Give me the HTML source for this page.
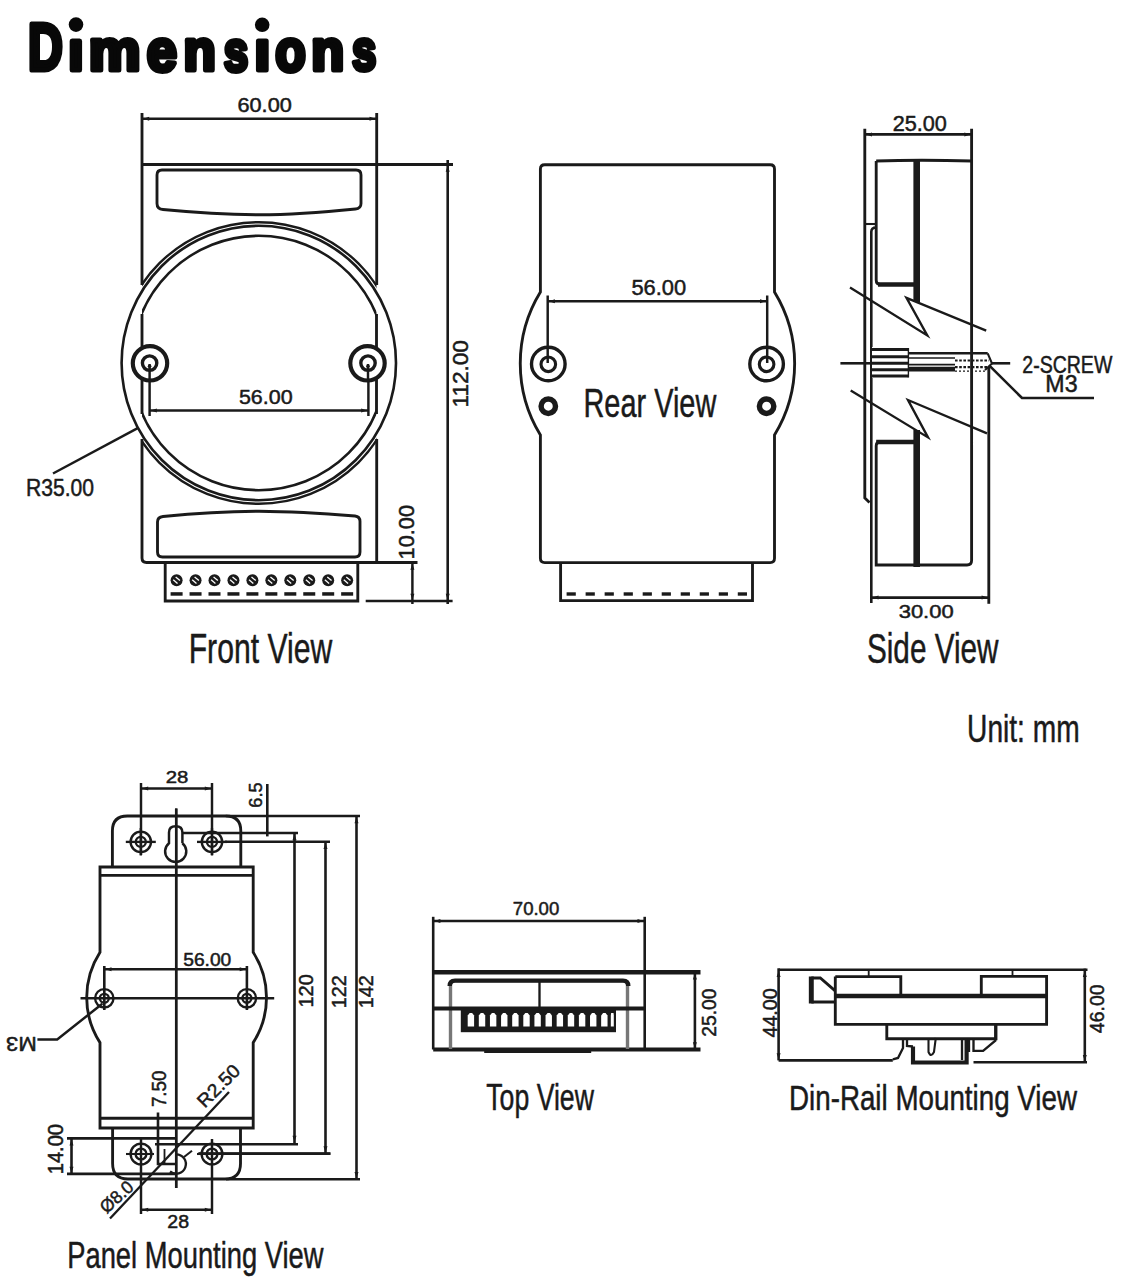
<!DOCTYPE html>
<html><head><meta charset="utf-8"><style>
html,body{margin:0;padding:0;background:#fff;}
body{width:1129px;height:1280px;overflow:hidden;}
svg{display:block;font-family:"Liberation Sans", sans-serif;}
</style></head><body>
<svg width="1129" height="1280" viewBox="0 0 1129 1280" stroke="#1a1a1a" stroke-linecap="butt">
<rect x="0" y="0" width="1129" height="1280" fill="#fff" stroke="none"/>
<text transform="translate(46.10,47.05) rotate(0)" x="-18.03" y="22.85" font-size="66.43" font-weight="bold" textLength="34.86" lengthAdjust="spacingAndGlyphs" fill="#080808" stroke="#080808" stroke-width="5.0" stroke-linejoin="round">D</text>
<text transform="translate(75.95,55.35) rotate(0)" x="-7.62" y="14.55" font-size="55.08" font-weight="bold" textLength="15.19" lengthAdjust="spacingAndGlyphs" fill="#080808" stroke="#080808" stroke-width="5.0" stroke-linejoin="round">ı</text>
<text transform="translate(114.85,54.65) rotate(0)" x="-25.99" y="15.45" font-size="57.37" font-weight="bold" textLength="51.74" lengthAdjust="spacingAndGlyphs" fill="#080808" stroke="#080808" stroke-width="5.0" stroke-linejoin="round">m</text>
<text transform="translate(161.90,55.20) rotate(0)" x="-15.22" y="15.43" font-size="58.41" font-weight="bold" textLength="30.17" lengthAdjust="spacingAndGlyphs" fill="#080808" stroke="#080808" stroke-width="5.0" stroke-linejoin="round">e</text>
<text transform="translate(199.75,54.65) rotate(0)" x="-16.23" y="15.45" font-size="57.37" font-weight="bold" textLength="32.26" lengthAdjust="spacingAndGlyphs" fill="#080808" stroke="#080808" stroke-width="5.0" stroke-linejoin="round">n</text>
<text transform="translate(235.90,55.35) rotate(0)" x="-12.15" y="15.29" font-size="57.81" font-weight="bold" textLength="24.56" lengthAdjust="spacingAndGlyphs" fill="#080808" stroke="#080808" stroke-width="5.0" stroke-linejoin="round">s</text>
<text transform="translate(262.25,55.35) rotate(0)" x="-7.82" y="14.55" font-size="55.08" font-weight="bold" textLength="15.59" lengthAdjust="spacingAndGlyphs" fill="#080808" stroke="#080808" stroke-width="5.0" stroke-linejoin="round">ı</text>
<text transform="translate(290.40,55.30) rotate(0)" x="-15.25" y="15.53" font-size="58.78" font-weight="bold" textLength="30.50" lengthAdjust="spacingAndGlyphs" fill="#080808" stroke="#080808" stroke-width="5.0" stroke-linejoin="round">o</text>
<text transform="translate(327.80,54.55) rotate(0)" x="-16.55" y="15.35" font-size="57.00" font-weight="bold" textLength="32.89" lengthAdjust="spacingAndGlyphs" fill="#080808" stroke="#080808" stroke-width="5.0" stroke-linejoin="round">n</text>
<text transform="translate(364.00,55.20) rotate(0)" x="-12.04" y="15.14" font-size="57.26" font-weight="bold" textLength="24.33" lengthAdjust="spacingAndGlyphs" fill="#080808" stroke="#080808" stroke-width="5.0" stroke-linejoin="round">s</text>
<circle cx="76.0" cy="24.6" r="7.3" stroke-width="0.00" fill="#080808" />
<circle cx="262.2" cy="24.8" r="7.3" stroke-width="0.00" fill="#080808" />
<defs><clipPath id="cpIn"><rect x="142" y="0" width="234.5" height="700"/></clipPath><clipPath id="cpDbl"><rect x="142" y="0" width="234.5" height="290"/><rect x="142" y="436" width="234.5" height="200"/></clipPath></defs>
<path d="M142,113 V285" stroke-width="2.86" fill="none" />
<path d="M376.7,113 V285" stroke-width="2.86" fill="none" />
<path d="M142,164.5 H453" stroke-width="2.86" fill="none" />
<path d="M142,118.7 H377" stroke-width="2.60" fill="none" />
<path d="M142,439 V558 Q142,562.5 146.5,562.5 H417.5" stroke-width="2.86" fill="none" />
<path d="M376.7,439 V562.5" stroke-width="2.86" fill="none" />
<path d="M157,175 Q157,170 162,170 H356 Q361,170 361,175 V203.5 Q361,208.5 355.5,209 Q300,214.8 259,214.8 Q215,214.5 163,209.5 Q157,209 157,203.5 Z" stroke-width="2.86" fill="none" />
<path d="M157.5,522 Q157.5,517 163,516.5 Q215,511.2 259,511.2 Q300,511.5 355,516 Q360,516.5 360,521.5 V552 Q360,557 355,557 H162.5 Q157.5,557 157.5,552 Z" stroke-width="2.86" fill="none" />
<circle cx="258.8" cy="363.0" r="137.2" stroke-width="2.60" fill="none" />
<circle cx="258.8" cy="363.0" r="140.8" stroke-width="2.4" fill="none" clip-path="url(#cpDbl)"/>
<circle cx="258.8" cy="363.0" r="127.2" stroke-width="2.6" fill="none" clip-path="url(#cpIn)"/>
<path d="M142,314 V414" stroke-width="2.86" fill="none" />
<path d="M376.5,314 V414" stroke-width="2.86" fill="none" />
<path d="M149.6,363 V416" stroke-width="2.47" fill="none" />
<path d="M368.4,363 V416" stroke-width="2.47" fill="none" />
<path d="M149.6,410.5 H368.4" stroke-width="2.60" fill="none" />
<circle cx="150.0" cy="363.3" r="17.2" stroke-width="4.16" fill="#fff" />
<circle cx="149.6" cy="363.1" r="7.2" stroke-width="3.38" fill="#fff" />
<path d="M149.6,364 V381" stroke-width="2.47" fill="none" />
<circle cx="149.6" cy="366.3" r="1.8" stroke-width="0.00" fill="#1a1a1a" />
<circle cx="367.5" cy="363.3" r="17.2" stroke-width="4.16" fill="#fff" />
<circle cx="368.0" cy="363.1" r="7.2" stroke-width="3.38" fill="#fff" />
<path d="M368.0,364 V381" stroke-width="2.47" fill="none" />
<circle cx="368.0" cy="366.3" r="1.8" stroke-width="0.00" fill="#1a1a1a" />
<text transform="translate(265.75,396.80) rotate(0)" x="-26.86" y="7.24" font-size="21.04" font-weight="normal" textLength="53.70" lengthAdjust="spacingAndGlyphs" fill="#1a1a1a" stroke="#1a1a1a" stroke-width="0.5" stroke-linejoin="round">56.00</text>
<text transform="translate(264.75,104.65) rotate(0)" x="-27.30" y="7.00" font-size="20.34" font-weight="normal" textLength="54.35" lengthAdjust="spacingAndGlyphs" fill="#1a1a1a" stroke="#1a1a1a" stroke-width="0.5" stroke-linejoin="round">60.00</text>
<path d="M53,473.5 L137.7,428.2" stroke-width="2.47" fill="none" />
<text transform="translate(60.40,487.80) rotate(0)" x="-34.48" y="8.12" font-size="23.59" font-weight="normal" textLength="68.06" lengthAdjust="spacingAndGlyphs" fill="#1a1a1a" stroke="#1a1a1a" stroke-width="0.5" stroke-linejoin="round">R35.00</text>
<path d="M447.7,160 V604" stroke-width="2.60" fill="none" />
<text transform="translate(460.60,373.35) rotate(-90)" x="-34.08" y="7.73" font-size="22.46" font-weight="normal" textLength="67.34" lengthAdjust="spacingAndGlyphs" fill="#1a1a1a" stroke="#1a1a1a" stroke-width="0.5" stroke-linejoin="round">112.00</text>
<path d="M365.7,601 H452.6" stroke-width="2.60" fill="none" />
<path d="M412.4,562.5 V604" stroke-width="2.47" fill="none" />
<text transform="translate(406.50,531.75) rotate(-90)" x="-27.66" y="7.54" font-size="21.89" font-weight="normal" textLength="54.51" lengthAdjust="spacingAndGlyphs" fill="#1a1a1a" stroke="#1a1a1a" stroke-width="0.5" stroke-linejoin="round">10.00</text>
<path d="M165.2,562.5 V601 H357.8 V562.5" stroke-width="2.86" fill="none" />
<circle cx="176.6" cy="580.2" r="6.0" stroke-width="0.00" fill="#1a1a1a" />
<g transform="translate(176.60,580.2) rotate(40)" stroke="#fff" stroke-width="1.3"><line x1="-2.8" y1="-1.9" x2="2.8" y2="-1.9"/><line x1="-2.8" y1="1.9" x2="2.8" y2="1.9"/></g>
<rect x="170.60" y="592.20" width="12.00" height="3.50" stroke-width="0" fill="#1a1a1a" />
<circle cx="195.54999999999998" cy="580.2" r="6.0" stroke-width="0.00" fill="#1a1a1a" />
<g transform="translate(195.55,580.2) rotate(40)" stroke="#fff" stroke-width="1.3"><line x1="-2.8" y1="-1.9" x2="2.8" y2="-1.9"/><line x1="-2.8" y1="1.9" x2="2.8" y2="1.9"/></g>
<rect x="189.55" y="592.20" width="12.00" height="3.50" stroke-width="0" fill="#1a1a1a" />
<circle cx="214.5" cy="580.2" r="6.0" stroke-width="0.00" fill="#1a1a1a" />
<g transform="translate(214.50,580.2) rotate(40)" stroke="#fff" stroke-width="1.3"><line x1="-2.8" y1="-1.9" x2="2.8" y2="-1.9"/><line x1="-2.8" y1="1.9" x2="2.8" y2="1.9"/></g>
<rect x="208.50" y="592.20" width="12.00" height="3.50" stroke-width="0" fill="#1a1a1a" />
<circle cx="233.45" cy="580.2" r="6.0" stroke-width="0.00" fill="#1a1a1a" />
<g transform="translate(233.45,580.2) rotate(40)" stroke="#fff" stroke-width="1.3"><line x1="-2.8" y1="-1.9" x2="2.8" y2="-1.9"/><line x1="-2.8" y1="1.9" x2="2.8" y2="1.9"/></g>
<rect x="227.45" y="592.20" width="12.00" height="3.50" stroke-width="0" fill="#1a1a1a" />
<circle cx="252.39999999999998" cy="580.2" r="6.0" stroke-width="0.00" fill="#1a1a1a" />
<g transform="translate(252.40,580.2) rotate(40)" stroke="#fff" stroke-width="1.3"><line x1="-2.8" y1="-1.9" x2="2.8" y2="-1.9"/><line x1="-2.8" y1="1.9" x2="2.8" y2="1.9"/></g>
<rect x="246.40" y="592.20" width="12.00" height="3.50" stroke-width="0" fill="#1a1a1a" />
<circle cx="271.35" cy="580.2" r="6.0" stroke-width="0.00" fill="#1a1a1a" />
<g transform="translate(271.35,580.2) rotate(40)" stroke="#fff" stroke-width="1.3"><line x1="-2.8" y1="-1.9" x2="2.8" y2="-1.9"/><line x1="-2.8" y1="1.9" x2="2.8" y2="1.9"/></g>
<rect x="265.35" y="592.20" width="12.00" height="3.50" stroke-width="0" fill="#1a1a1a" />
<circle cx="290.29999999999995" cy="580.2" r="6.0" stroke-width="0.00" fill="#1a1a1a" />
<g transform="translate(290.30,580.2) rotate(40)" stroke="#fff" stroke-width="1.3"><line x1="-2.8" y1="-1.9" x2="2.8" y2="-1.9"/><line x1="-2.8" y1="1.9" x2="2.8" y2="1.9"/></g>
<rect x="284.30" y="592.20" width="12.00" height="3.50" stroke-width="0" fill="#1a1a1a" />
<circle cx="309.25" cy="580.2" r="6.0" stroke-width="0.00" fill="#1a1a1a" />
<g transform="translate(309.25,580.2) rotate(40)" stroke="#fff" stroke-width="1.3"><line x1="-2.8" y1="-1.9" x2="2.8" y2="-1.9"/><line x1="-2.8" y1="1.9" x2="2.8" y2="1.9"/></g>
<rect x="303.25" y="592.20" width="12.00" height="3.50" stroke-width="0" fill="#1a1a1a" />
<circle cx="328.2" cy="580.2" r="6.0" stroke-width="0.00" fill="#1a1a1a" />
<g transform="translate(328.20,580.2) rotate(40)" stroke="#fff" stroke-width="1.3"><line x1="-2.8" y1="-1.9" x2="2.8" y2="-1.9"/><line x1="-2.8" y1="1.9" x2="2.8" y2="1.9"/></g>
<rect x="322.20" y="592.20" width="12.00" height="3.50" stroke-width="0" fill="#1a1a1a" />
<circle cx="347.15" cy="580.2" r="6.0" stroke-width="0.00" fill="#1a1a1a" />
<g transform="translate(347.15,580.2) rotate(40)" stroke="#fff" stroke-width="1.3"><line x1="-2.8" y1="-1.9" x2="2.8" y2="-1.9"/><line x1="-2.8" y1="1.9" x2="2.8" y2="1.9"/></g>
<rect x="341.15" y="592.20" width="12.00" height="3.50" stroke-width="0" fill="#1a1a1a" />
<text transform="translate(261.75,647.90) rotate(0)" x="-73.06" y="14.65" font-size="42.59" font-weight="normal" textLength="143.59" lengthAdjust="spacingAndGlyphs" fill="#1a1a1a" stroke="#1a1a1a" stroke-width="0.5" stroke-linejoin="round">Front View</text>
<path d="M540.4,292 V169 Q540.4,164.7 544.7,164.7 H770.2 Q774.5,164.7 774.5,169 V292 A137,137 0 0 1 774.5,435 V558.3 Q774.5,562.6 770.2,562.6 H544.7 Q540.4,562.6 540.4,558.3 V435 A137,137 0 0 1 540.4,292 Z" stroke-width="2.86" fill="none" />
<circle cx="548.3" cy="364" r="16.8" stroke-width="3.38" fill="#fff" />
<circle cx="548.3" cy="364.3" r="7.3" stroke-width="3.12" fill="#fff" />
<circle cx="548.3" cy="406.2" r="7.2" stroke-width="5.46" fill="#fff" />
<circle cx="766.6" cy="364" r="16.8" stroke-width="3.38" fill="#fff" />
<circle cx="766.6" cy="364.3" r="7.3" stroke-width="3.12" fill="#fff" />
<circle cx="766.6" cy="406.2" r="7.2" stroke-width="5.46" fill="#fff" />
<path d="M547.7,295.5 V363" stroke-width="2.47" fill="none" />
<path d="M767.2,295.5 V363" stroke-width="2.47" fill="none" />
<path d="M547.7,301.2 H767.2" stroke-width="2.60" fill="none" />
<text transform="translate(658.80,287.05) rotate(0)" x="-27.43" y="7.68" font-size="22.32" font-weight="normal" textLength="54.83" lengthAdjust="spacingAndGlyphs" fill="#1a1a1a" stroke="#1a1a1a" stroke-width="0.5" stroke-linejoin="round">56.00</text>
<text transform="translate(651.10,403.75) rotate(0)" x="-67.61" y="13.70" font-size="39.83" font-weight="normal" textLength="132.79" lengthAdjust="spacingAndGlyphs" fill="#1a1a1a" stroke="#1a1a1a" stroke-width="0.5" stroke-linejoin="round">Rear View</text>
<path d="M560.6,562.6 V600.6 H752.5 V562.6" stroke-width="2.86" fill="none" />
<rect x="566.60" y="592.30" width="9.20" height="3.40" stroke-width="0" fill="#1a1a1a" />
<rect x="585.62" y="592.30" width="9.20" height="3.40" stroke-width="0" fill="#1a1a1a" />
<rect x="604.64" y="592.30" width="9.20" height="3.40" stroke-width="0" fill="#1a1a1a" />
<rect x="623.66" y="592.30" width="9.20" height="3.40" stroke-width="0" fill="#1a1a1a" />
<rect x="642.68" y="592.30" width="9.20" height="3.40" stroke-width="0" fill="#1a1a1a" />
<rect x="661.70" y="592.30" width="9.20" height="3.40" stroke-width="0" fill="#1a1a1a" />
<rect x="680.72" y="592.30" width="9.20" height="3.40" stroke-width="0" fill="#1a1a1a" />
<rect x="699.74" y="592.30" width="9.20" height="3.40" stroke-width="0" fill="#1a1a1a" />
<rect x="718.76" y="592.30" width="9.20" height="3.40" stroke-width="0" fill="#1a1a1a" />
<rect x="737.78" y="592.30" width="9.20" height="3.40" stroke-width="0" fill="#1a1a1a" />
<path d="M864.8,128.7 V498 L869.5,502.5" stroke-width="2.86" fill="none" />
<path d="M971.6,128.7 V560.5 Q971.6,565 967,565 H876.2 V446 Q876.2,442 880,442 H916" stroke-width="2.86" fill="none" />
<path d="M876.2,442 H916" stroke-width="4.68" fill="none" />
<path d="M864.8,134.4 H971.6" stroke-width="2.60" fill="none" />
<path d="M876.2,161 Q920,159.5 971.6,161" stroke-width="2.86" fill="none" />
<path d="M876.2,161 V280 Q876.2,284.5 880.5,284.5 H916" stroke-width="2.86" fill="none" />
<path d="M878,284.5 H916" stroke-width="4.42" fill="none" />
<rect x="913.40" y="160.00" width="6.60" height="142.00" stroke-width="0" fill="#1a1a1a" />
<rect x="913.40" y="430.00" width="6.60" height="137.00" stroke-width="0" fill="#1a1a1a" />
<path d="M864.8,224 H876.2" stroke-width="2.08" fill="none" />
<path d="M876.2,227.5 Q871.3,227.5 871.3,232 V603" stroke-width="2.60" fill="none" />
<path d="M988.8,367 V603.8" stroke-width="2.86" fill="none" />
<path d="M871.3,597.6 H988.8" stroke-width="2.60" fill="none" />
<text transform="translate(919.90,123.20) rotate(0)" x="-27.24" y="7.54" font-size="21.89" font-weight="normal" textLength="54.24" lengthAdjust="spacingAndGlyphs" fill="#1a1a1a" stroke="#1a1a1a" stroke-width="0.5" stroke-linejoin="round">25.00</text>
<text transform="translate(926.15,611.55) rotate(0)" x="-27.44" y="6.42" font-size="18.64" font-weight="normal" textLength="54.89" lengthAdjust="spacingAndGlyphs" fill="#1a1a1a" stroke="#1a1a1a" stroke-width="0.5" stroke-linejoin="round">30.00</text>
<path d="M850,287.5 L927.3,335.4 L906.5,297.9 L986.2,330.6" stroke-width="2.34" fill="none" />
<path d="M850.7,390.4 L928,437.4 L908,400 L987,433.4" stroke-width="2.34" fill="none" />
<rect x="872.00" y="347.00" width="37.00" height="31.00" stroke-width="0" fill="#fff" />
<path d="M871.3,363.3 H840.4" stroke-width="2.60" fill="none" />
<line x1="871.3" y1="349.6" x2="908.4" y2="349.6" stroke-width="3.0"/>
<line x1="871.3" y1="356.7" x2="908.4" y2="356.7" stroke-width="3.0"/>
<line x1="871.3" y1="363.3" x2="908.4" y2="363.3" stroke-width="3.0"/>
<line x1="871.3" y1="369.8" x2="908.4" y2="369.8" stroke-width="3.0"/>
<line x1="871.3" y1="376.0" x2="908.4" y2="376.0" stroke-width="3.0"/>
<line x1="908.4" y1="348" x2="908.4" y2="377.5" stroke-width="1.4"/>
<line x1="908.4" y1="353.3" x2="987.7" y2="353.3" stroke-width="2.6"/>
<line x1="908.4" y1="358.0" x2="955" y2="358.0" stroke-width="1.6"/>
<line x1="908.4" y1="364.6" x2="955" y2="364.6" stroke-width="1.6"/>
<line x1="908.4" y1="369.2" x2="955" y2="369.2" stroke-width="4.8"/>
<line x1="955" y1="360.5" x2="989" y2="360.5" stroke-width="2.0" stroke-dasharray="2.6 1.6"/>
<line x1="955" y1="367.2" x2="989" y2="367.2" stroke-width="2.2" stroke-dasharray="2.6 1.6"/>
<line x1="955" y1="371.2" x2="985" y2="371.2" stroke-width="1.2" stroke-dasharray="2 2"/>
<path d="M987.7,353.3 L992,363.6 L985,370" stroke-width="2.08" fill="none" />
<path d="M992,363.3 H1010.2" stroke-width="2.60" fill="none" />
<path d="M989.4,365.7 L1022,398 H1094" stroke-width="2.60" fill="none" />
<text transform="translate(1067.75,364.40) rotate(0)" x="-45.48" y="8.15" font-size="23.69" font-weight="normal" textLength="90.05" lengthAdjust="spacingAndGlyphs" fill="#1a1a1a" stroke="#1a1a1a" stroke-width="0.5" stroke-linejoin="round">2-SCREW</text>
<text transform="translate(1061.90,384.30) rotate(0)" x="-16.55" y="8.05" font-size="23.40" font-weight="normal" textLength="32.22" lengthAdjust="spacingAndGlyphs" fill="#1a1a1a" stroke="#1a1a1a" stroke-width="0.5" stroke-linejoin="round">M3</text>
<text transform="translate(933.45,648.65) rotate(0)" x="-66.54" y="14.40" font-size="41.86" font-weight="normal" textLength="131.67" lengthAdjust="spacingAndGlyphs" fill="#1a1a1a" stroke="#1a1a1a" stroke-width="0.5" stroke-linejoin="round">Side View</text>
<text transform="translate(1023.50,728.95) rotate(0)" x="-56.42" y="13.20" font-size="38.37" font-weight="normal" textLength="112.52" lengthAdjust="spacingAndGlyphs" fill="#1a1a1a" stroke="#1a1a1a" stroke-width="0.5" stroke-linejoin="round">Unit: mm</text>
<path d="M141,783 V855" stroke-width="2.47" fill="none" />
<path d="M212,783 V855" stroke-width="2.47" fill="none" />
<path d="M141,788.5 H212" stroke-width="2.60" fill="none" />
<text transform="translate(177.00,776.95) rotate(0)" x="-11.37" y="5.83" font-size="16.95" font-weight="normal" textLength="22.61" lengthAdjust="spacingAndGlyphs" fill="#1a1a1a" stroke="#1a1a1a" stroke-width="0.5" stroke-linejoin="round">28</text>
<path d="M176.2,808.5 V1188" stroke-width="2.47" fill="none" />
<path d="M112.4,867 V831 Q112.4,816 127.4,816 H225.8 Q240.8,816 240.8,831 V867" stroke-width="2.86" fill="none" />
<path d="M225.8,816 H360" stroke-width="2.60" fill="none" />
<circle cx="140.8" cy="841.9" r="10.2" stroke-width="2.34" fill="none" />
<circle cx="140.8" cy="841.9" r="5.0" stroke-width="2.34" fill="none" />
<path d="M125.80000000000001,841.9 H155.8" stroke-width="2.34" fill="none" />
<path d="M140.8,828 V855.5" stroke-width="2.34" fill="none" />
<circle cx="212" cy="841.9" r="10.2" stroke-width="2.34" fill="none" />
<circle cx="212" cy="841.9" r="5.0" stroke-width="2.34" fill="none" />
<path d="M197,841.9 H227" stroke-width="2.34" fill="none" />
<path d="M212,828 V855.5" stroke-width="2.34" fill="none" />
<path d="M182.4,843.2 V832.5 Q182.4,826.3 175.7,826.3 Q169,826.3 169,832.5 V843.2 A10.6,10.6 0 1 0 182.4,843.2" stroke-width="2.47" fill="none" />
<path d="M176.2,808.5 V1188" stroke-width="2.47" fill="none" />
<path d="M182.4,833 H298" stroke-width="2.60" fill="none" />
<path d="M224.8,841.7 H330" stroke-width="2.60" fill="none" />
<path d="M267.3,784 V836.4" stroke-width="2.60" fill="none" />
<text transform="translate(255.50,795.00) rotate(-90)" x="-12.67" y="6.08" font-size="17.66" font-weight="normal" textLength="25.18" lengthAdjust="spacingAndGlyphs" fill="#1a1a1a" stroke="#1a1a1a" stroke-width="0.5" stroke-linejoin="round">6.5</text>
<path d="M294.5,833 V1143" stroke-width="2.60" fill="none" />
<path d="M325.5,841.7 V1153.3" stroke-width="2.60" fill="none" />
<path d="M356.5,816 V1179.7" stroke-width="2.60" fill="none" />
<text transform="translate(305.95,990.55) rotate(-90)" x="-17.02" y="7.10" font-size="20.62" font-weight="normal" textLength="33.30" lengthAdjust="spacingAndGlyphs" fill="#1a1a1a" stroke="#1a1a1a" stroke-width="0.5" stroke-linejoin="round">120</text>
<text transform="translate(338.25,991.50) rotate(-90)" x="-16.76" y="7.30" font-size="20.91" font-weight="normal" textLength="33.00" lengthAdjust="spacingAndGlyphs" fill="#1a1a1a" stroke="#1a1a1a" stroke-width="0.5" stroke-linejoin="round">122</text>
<text transform="translate(366.15,991.50) rotate(-90)" x="-16.76" y="7.30" font-size="20.91" font-weight="normal" textLength="33.00" lengthAdjust="spacingAndGlyphs" fill="#1a1a1a" stroke="#1a1a1a" stroke-width="0.5" stroke-linejoin="round">142</text>
<path d="M155,1144.3 H298" stroke-width="2.60" fill="none" />
<path d="M198.5,1153.5 H330.4" stroke-width="2.60" fill="none" />
<path d="M226,1179.2 H360" stroke-width="2.60" fill="none" />
<path d="M100,867 H253.2 V952.3 A83.3,83.3 0 0 1 253.2,1042.6 V1128 H100 V1042.6 A83.3,83.3 0 0 1 100,952.3 Z" stroke-width="2.86" fill="none" />
<path d="M100,875.4 H253.2" stroke-width="2.86" fill="none" />
<path d="M100,1118.3 H253.2" stroke-width="2.86" fill="none" />
<path d="M112.6,1128 V1163.5 Q112.6,1179 128,1179 H225 Q240.5,1179 240.5,1163.5 V1128" stroke-width="2.86" fill="none" />
<path d="M80.5,998.3 H274.2" stroke-width="2.60" fill="none" />
<circle cx="104.3" cy="998.3" r="9.2" stroke-width="2.34" fill="none" />
<circle cx="104.3" cy="998.3" r="4.5" stroke-width="2.34" fill="none" />
<path d="M104.3,966 V1010" stroke-width="2.60" fill="none" />
<circle cx="246.9" cy="998.3" r="9.2" stroke-width="2.34" fill="none" />
<circle cx="246.9" cy="998.3" r="4.5" stroke-width="2.34" fill="none" />
<path d="M246.9,966 V1010" stroke-width="2.60" fill="none" />
<path d="M104.3,969.2 H246.9" stroke-width="2.60" fill="none" />
<text transform="translate(207.25,960.15) rotate(0)" x="-24.07" y="6.13" font-size="17.80" font-weight="normal" textLength="48.12" lengthAdjust="spacingAndGlyphs" fill="#1a1a1a" stroke="#1a1a1a" stroke-width="0.5" stroke-linejoin="round">56.00</text>
<path d="M102.3,1003.7 L57.2,1039.5 H37.4" stroke-width="2.47" fill="none" />
<text transform="translate(21.00,1044.10) rotate(180)" x="-15.71" y="6.85" font-size="19.91" font-weight="normal" textLength="30.57" lengthAdjust="spacingAndGlyphs" fill="#1a1a1a" stroke="#1a1a1a" stroke-width="0.5" stroke-linejoin="round">M3</text>
<path d="M158,1112.6 V1164 H176" stroke-width="2.60" fill="none" />
<text transform="translate(158.75,1088.70) rotate(-90)" x="-18.41" y="7.10" font-size="20.62" font-weight="normal" textLength="36.60" lengthAdjust="spacingAndGlyphs" fill="#1a1a1a" stroke="#1a1a1a" stroke-width="0.5" stroke-linejoin="round">7.50</text>
<path d="M164.5,1149 V1164" stroke-width="1.82" fill="none" />
<path d="M176.2,1154.3 A9.7,9.7 0 1 1 170,1171.5" stroke-width="2.34" fill="none" />
<path d="M192,1150.7 L184,1157" stroke-width="2.08" fill="none" />
<path d="M229,1092 L110,1218.5" stroke-width="2.34" fill="none" />
<text transform="translate(218.80,1085.50) rotate(-45)" x="-26.34" y="6.47" font-size="18.79" font-weight="normal" textLength="51.85" lengthAdjust="spacingAndGlyphs" fill="#1a1a1a" stroke="#1a1a1a" stroke-width="0.5" stroke-linejoin="round">R2.50</text>
<text transform="translate(116.50,1196.80) rotate(-42)" x="-19.11" y="6.19" font-size="17.93" font-weight="normal" textLength="38.30" lengthAdjust="spacingAndGlyphs" fill="#1a1a1a" stroke="#1a1a1a" stroke-width="0.5" stroke-linejoin="round">Ø8.0</text>
<circle cx="141" cy="1154" r="10.4" stroke-width="2.34" fill="none" />
<circle cx="141" cy="1154" r="5.4" stroke-width="2.34" fill="none" />
<path d="M126,1154 H154" stroke-width="2.08" fill="none" />
<path d="M141,1139 V1214" stroke-width="2.47" fill="none" />
<circle cx="212" cy="1154" r="10.4" stroke-width="2.34" fill="none" />
<circle cx="212" cy="1154" r="5.4" stroke-width="2.34" fill="none" />
<path d="M197,1154 H225" stroke-width="2.08" fill="none" />
<path d="M212,1139 V1214" stroke-width="2.47" fill="none" />
<path d="M198.5,1153.8 H330.4" stroke-width="2.60" fill="none" />
<path d="M141,1209.8 H212" stroke-width="2.60" fill="none" />
<text transform="translate(178.20,1222.05) rotate(0)" x="-10.93" y="6.22" font-size="18.08" font-weight="normal" textLength="21.73" lengthAdjust="spacingAndGlyphs" fill="#1a1a1a" stroke="#1a1a1a" stroke-width="0.5" stroke-linejoin="round">28</text>
<path d="M67,1138.4 H177" stroke-width="2.60" fill="none" />
<path d="M67,1173.9 H177" stroke-width="2.60" fill="none" />
<path d="M71.5,1138.4 V1173.9" stroke-width="2.60" fill="none" />
<text transform="translate(55.25,1148.75) rotate(-90)" x="-25.53" y="7.29" font-size="21.19" font-weight="normal" textLength="50.32" lengthAdjust="spacingAndGlyphs" fill="#1a1a1a" stroke="#1a1a1a" stroke-width="0.5" stroke-linejoin="round">14.00</text>
<text transform="translate(196.50,1255.75) rotate(0)" x="-129.29" y="12.50" font-size="36.34" font-weight="normal" textLength="256.27" lengthAdjust="spacingAndGlyphs" fill="#1a1a1a" stroke="#1a1a1a" stroke-width="0.5" stroke-linejoin="round">Panel Mounting View</text>
<path d="M433.2,916.8 V1049.5" stroke-width="2.60" fill="none" />
<path d="M644.7,916.8 V1049.5" stroke-width="2.60" fill="none" />
<path d="M433.2,921 H644.7" stroke-width="2.60" fill="none" />
<text transform="translate(536.15,908.70) rotate(0)" x="-23.35" y="6.27" font-size="18.22" font-weight="normal" textLength="46.48" lengthAdjust="spacingAndGlyphs" fill="#1a1a1a" stroke="#1a1a1a" stroke-width="0.5" stroke-linejoin="round">70.00</text>
<path d="M433.2,972.2 H700.5" stroke-width="4.42" fill="none" />
<path d="M433.2,1049.5 H700.5" stroke-width="4.16" fill="none" />
<path d="M450.5,1049 V985.5 Q450.5,980.6 455.5,980.6 H623 Q627.5,980.6 627.5,985.5 V1049" stroke-width="3.38" fill="none" stroke="#777"/>
<path d="M449.7,986 Q449.7,980.6 455,980.6 H623 Q628.3,980.6 628.3,986" stroke-width="4.42" fill="none" />
<path d="M433.2,1008.5 H644.4" stroke-width="3.90" fill="none" />
<path d="M539.5,980.6 V1008.5" stroke-width="2.34" fill="none" />
<rect x="460.80" y="1008.00" width="155.20" height="24.20" stroke-width="0" fill="#1a1a1a" />
<path d="M467.70,1026.4 V1015.5 L469.70,1013 H472.10 L474.10,1015.5 V1026.4 Z" fill="#fff" stroke="none"/>
<path d="M478.82,1026.4 V1015.5 L480.82,1013 H483.22 L485.22,1015.5 V1026.4 Z" fill="#fff" stroke="none"/>
<path d="M489.94,1026.4 V1015.5 L491.94,1013 H494.34 L496.34,1015.5 V1026.4 Z" fill="#fff" stroke="none"/>
<path d="M501.06,1026.4 V1015.5 L503.06,1013 H505.46 L507.46,1015.5 V1026.4 Z" fill="#fff" stroke="none"/>
<path d="M512.18,1026.4 V1015.5 L514.18,1013 H516.58 L518.58,1015.5 V1026.4 Z" fill="#fff" stroke="none"/>
<path d="M523.30,1026.4 V1015.5 L525.30,1013 H527.70 L529.70,1015.5 V1026.4 Z" fill="#fff" stroke="none"/>
<path d="M534.42,1026.4 V1015.5 L536.42,1013 H538.82 L540.82,1015.5 V1026.4 Z" fill="#fff" stroke="none"/>
<path d="M545.54,1026.4 V1015.5 L547.54,1013 H549.94 L551.94,1015.5 V1026.4 Z" fill="#fff" stroke="none"/>
<path d="M556.66,1026.4 V1015.5 L558.66,1013 H561.06 L563.06,1015.5 V1026.4 Z" fill="#fff" stroke="none"/>
<path d="M567.78,1026.4 V1015.5 L569.78,1013 H572.18 L574.18,1015.5 V1026.4 Z" fill="#fff" stroke="none"/>
<path d="M578.90,1026.4 V1015.5 L580.90,1013 H583.30 L585.30,1015.5 V1026.4 Z" fill="#fff" stroke="none"/>
<path d="M590.02,1026.4 V1015.5 L592.02,1013 H594.42 L596.42,1015.5 V1026.4 Z" fill="#fff" stroke="none"/>
<path d="M601.14,1026.4 V1015.5 L603.14,1013 H605.54 L607.54,1015.5 V1026.4 Z" fill="#fff" stroke="none"/>
<path d="M610.80,1026.4 V1015.5 L611.10,1013 H613.50 L613.80,1015.5 V1026.4 Z" fill="#fff" stroke="none"/>
<path d="M484.2,1051.4 H591.2" stroke-width="3.12" fill="none" />
<path d="M694.9,971.3 V1049.5" stroke-width="2.60" fill="none" />
<text transform="translate(709.00,1012.50) rotate(-90)" x="-24.22" y="7.05" font-size="20.48" font-weight="normal" textLength="48.22" lengthAdjust="spacingAndGlyphs" fill="#1a1a1a" stroke="#1a1a1a" stroke-width="0.5" stroke-linejoin="round">25.00</text>
<text transform="translate(540.40,1097.70) rotate(0)" x="-54.13" y="12.55" font-size="36.48" font-weight="normal" textLength="107.62" lengthAdjust="spacingAndGlyphs" fill="#1a1a1a" stroke="#1a1a1a" stroke-width="0.5" stroke-linejoin="round">Top View</text>
<path d="M778.6,968.3 V1060.4" stroke-width="2.60" fill="none" />
<path d="M778.6,969.8 H1087.5" stroke-width="2.60" fill="none" />
<path d="M868.7,969.8 V976.8 M1012.5,969.8 V976.6" stroke-width="1.82" fill="none" />
<path d="M778.6,1060.4 H892.8" stroke-width="2.60" fill="none" />
<path d="M811.3,978 H820.3 L835.2,990.8 M835.2,1002 H811.3" stroke-width="2.86" fill="none" />
<path d="M811.3,976.5 V1003.5" stroke-width="4.94" fill="none" />
<path d="M835.3,976.6 H900.8 V996 M981.3,996 V976.4 H1046.6 V996" stroke-width="2.86" fill="none" />
<path d="M835.3,976.6 V1024.4 H1046.6 V996" stroke-width="2.86" fill="none" />
<path d="M835.3,996 H1046.6" stroke-width="4.68" fill="none" />
<path d="M886.8,1024.4 V1038.8 H996 V1024.4" stroke-width="2.86" fill="none" />
<path d="M913,1046.5 V1062.5 H966.6 V1040" stroke-width="4.16" fill="none" />
<path d="M892.8,1059.3 L898,1058 L903,1048 V1038" stroke-width="2.34" fill="none" />
<path d="M907,1038 V1046 L913,1046.5" stroke-width="2.34" fill="none" />
<path d="M928.5,1038 V1052 Q931,1058 934,1052 L935.8,1038" stroke-width="2.08" fill="none" />
<path d="M962,1038 V1060 M969,1038 V1052" stroke-width="2.34" fill="none" />
<path d="M973.5,1038 V1050.8 H983.1 L995.3,1040.7 V1024.6" stroke-width="2.34" fill="none" />
<path d="M1084.8,968.6 V1062.7" stroke-width="2.60" fill="none" />
<path d="M973.5,1062.2 H1087" stroke-width="2.60" fill="none" />
<text transform="translate(769.70,1013.05) rotate(-90)" x="-24.55" y="7.24" font-size="21.04" font-weight="normal" textLength="49.42" lengthAdjust="spacingAndGlyphs" fill="#1a1a1a" stroke="#1a1a1a" stroke-width="0.5" stroke-linejoin="round">44.00</text>
<text transform="translate(1097.15,1008.95) rotate(-90)" x="-24.25" y="7.10" font-size="20.62" font-weight="normal" textLength="48.81" lengthAdjust="spacingAndGlyphs" fill="#1a1a1a" stroke="#1a1a1a" stroke-width="0.5" stroke-linejoin="round">46.00</text>
<text transform="translate(934.15,1098.25) rotate(0)" x="-145.17" y="12.00" font-size="34.88" font-weight="normal" textLength="288.01" lengthAdjust="spacingAndGlyphs" fill="#1a1a1a" stroke="#1a1a1a" stroke-width="0.5" stroke-linejoin="round">Din-Rail Mounting View</text>
<path d="M143.20,118.70 L149.20,116.70 L149.20,120.70 Z" fill="#1a1a1a" stroke="none"/>
<path d="M375.50,118.70 L369.50,120.70 L369.50,116.70 Z" fill="#1a1a1a" stroke="none"/>
<path d="M150.80,410.50 L156.80,408.50 L156.80,412.50 Z" fill="#1a1a1a" stroke="none"/>
<path d="M367.20,410.50 L361.20,412.50 L361.20,408.50 Z" fill="#1a1a1a" stroke="none"/>
<path d="M548.90,301.20 L554.90,299.20 L554.90,303.20 Z" fill="#1a1a1a" stroke="none"/>
<path d="M766.00,301.20 L760.00,303.20 L760.00,299.20 Z" fill="#1a1a1a" stroke="none"/>
<path d="M866.00,134.40 L872.00,132.40 L872.00,136.40 Z" fill="#1a1a1a" stroke="none"/>
<path d="M970.40,134.40 L964.40,136.40 L964.40,132.40 Z" fill="#1a1a1a" stroke="none"/>
<path d="M872.50,597.60 L878.50,595.60 L878.50,599.60 Z" fill="#1a1a1a" stroke="none"/>
<path d="M987.60,597.60 L981.60,599.60 L981.60,595.60 Z" fill="#1a1a1a" stroke="none"/>
<path d="M142.20,788.50 L148.20,786.50 L148.20,790.50 Z" fill="#1a1a1a" stroke="none"/>
<path d="M210.80,788.50 L204.80,790.50 L204.80,786.50 Z" fill="#1a1a1a" stroke="none"/>
<path d="M105.50,969.20 L111.50,967.20 L111.50,971.20 Z" fill="#1a1a1a" stroke="none"/>
<path d="M245.70,969.20 L239.70,971.20 L239.70,967.20 Z" fill="#1a1a1a" stroke="none"/>
<path d="M142.20,1209.80 L148.20,1207.80 L148.20,1211.80 Z" fill="#1a1a1a" stroke="none"/>
<path d="M210.80,1209.80 L204.80,1211.80 L204.80,1207.80 Z" fill="#1a1a1a" stroke="none"/>
<path d="M434.40,921.00 L440.40,919.00 L440.40,923.00 Z" fill="#1a1a1a" stroke="none"/>
<path d="M643.50,921.00 L637.50,923.00 L637.50,919.00 Z" fill="#1a1a1a" stroke="none"/>
<path d="M447.70,165.70 L449.70,171.70 L445.70,171.70 Z" fill="#1a1a1a" stroke="none"/>
<path d="M447.70,599.80 L445.70,593.80 L449.70,593.80 Z" fill="#1a1a1a" stroke="none"/>
<path d="M412.40,563.70 L414.40,569.70 L410.40,569.70 Z" fill="#1a1a1a" stroke="none"/>
<path d="M412.40,599.80 L410.40,593.80 L414.40,593.80 Z" fill="#1a1a1a" stroke="none"/>
<path d="M294.50,834.20 L296.50,840.20 L292.50,840.20 Z" fill="#1a1a1a" stroke="none"/>
<path d="M294.50,1141.80 L292.50,1135.80 L296.50,1135.80 Z" fill="#1a1a1a" stroke="none"/>
<path d="M325.50,843.10 L327.50,849.10 L323.50,849.10 Z" fill="#1a1a1a" stroke="none"/>
<path d="M325.50,1152.30 L323.50,1146.30 L327.50,1146.30 Z" fill="#1a1a1a" stroke="none"/>
<path d="M356.50,817.20 L358.50,823.20 L354.50,823.20 Z" fill="#1a1a1a" stroke="none"/>
<path d="M356.50,1178.00 L354.50,1172.00 L358.50,1172.00 Z" fill="#1a1a1a" stroke="none"/>
<path d="M71.50,1139.60 L73.50,1145.60 L69.50,1145.60 Z" fill="#1a1a1a" stroke="none"/>
<path d="M71.50,1172.70 L69.50,1166.70 L73.50,1166.70 Z" fill="#1a1a1a" stroke="none"/>
<path d="M694.90,973.40 L696.90,979.40 L692.90,979.40 Z" fill="#1a1a1a" stroke="none"/>
<path d="M694.90,1048.30 L692.90,1042.30 L696.90,1042.30 Z" fill="#1a1a1a" stroke="none"/>
<path d="M778.60,971.00 L780.60,977.00 L776.60,977.00 Z" fill="#1a1a1a" stroke="none"/>
<path d="M778.60,1059.20 L776.60,1053.20 L780.60,1053.20 Z" fill="#1a1a1a" stroke="none"/>
<path d="M1084.80,971.00 L1086.80,977.00 L1082.80,977.00 Z" fill="#1a1a1a" stroke="none"/>
<path d="M1084.80,1061.00 L1082.80,1055.00 L1086.80,1055.00 Z" fill="#1a1a1a" stroke="none"/>
</svg>
</body></html>
